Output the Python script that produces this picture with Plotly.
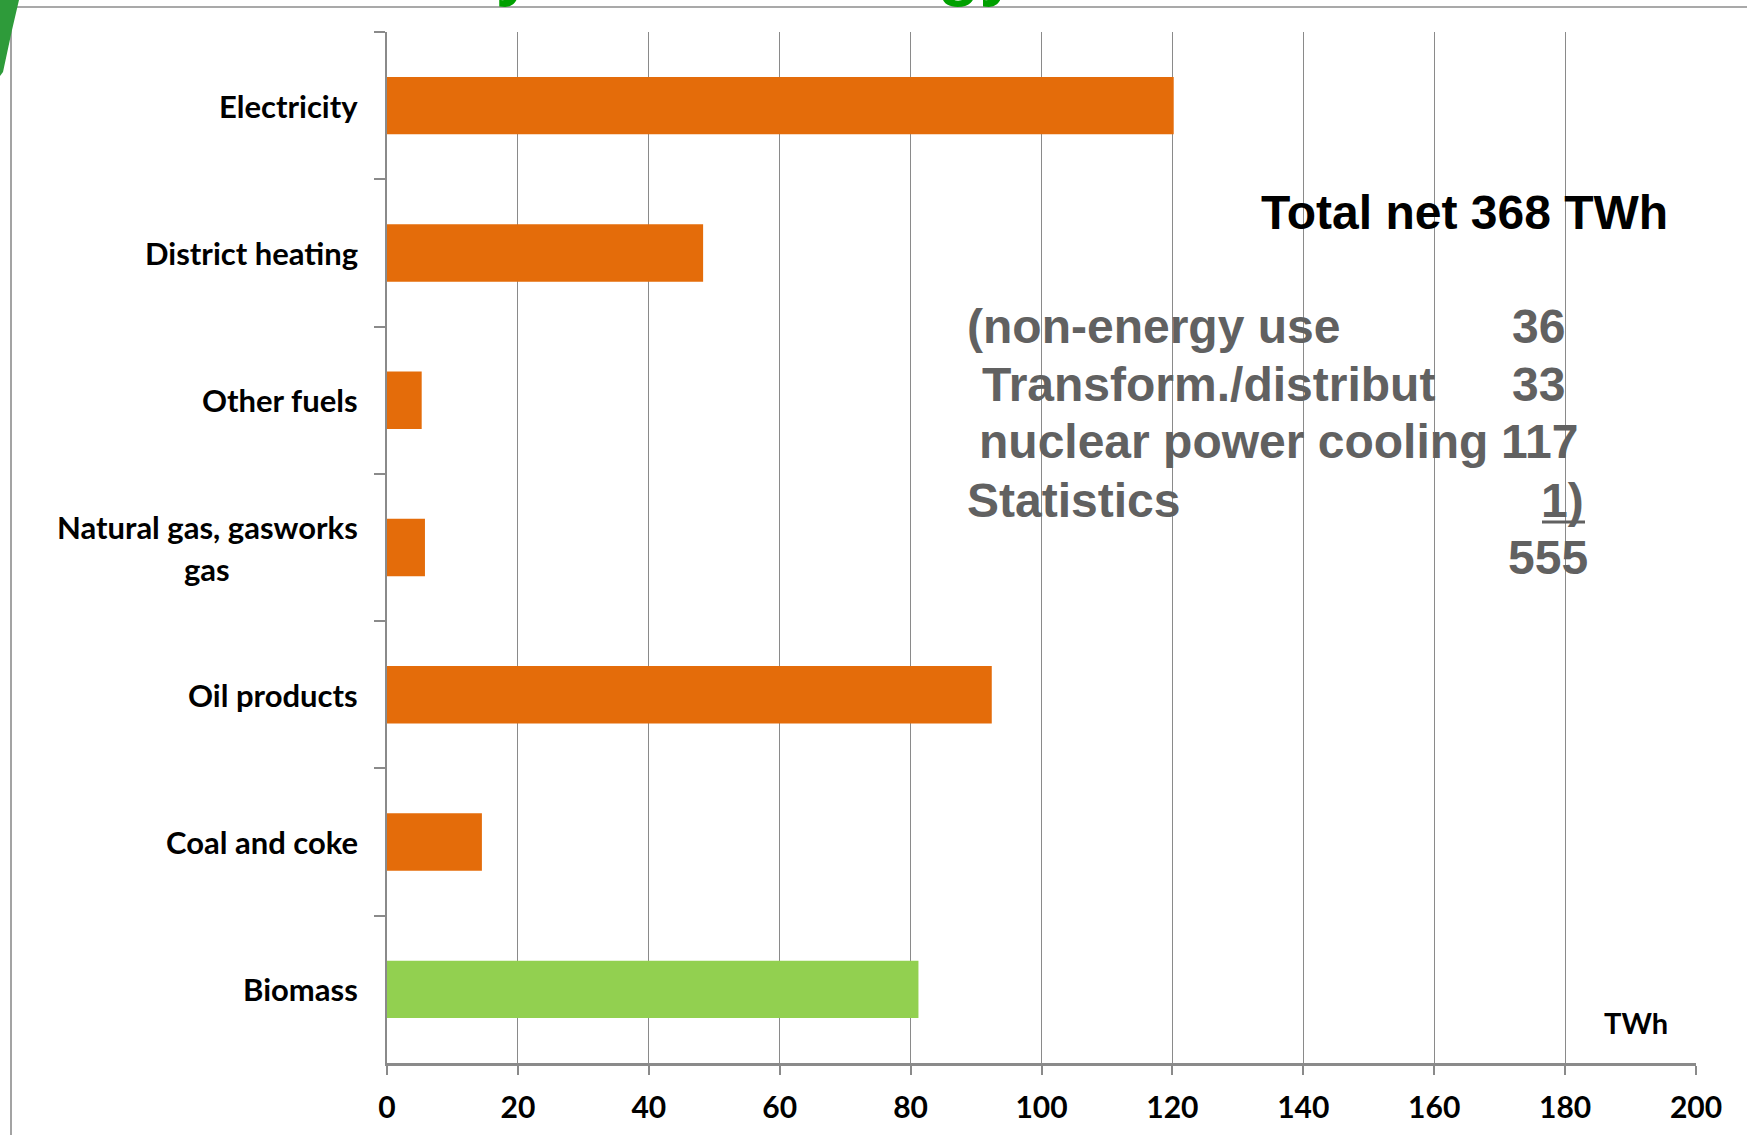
import plotly.graph_objects as go

# Final energy use by energy carrier (TWh)
categories = [
    "Electricity",
    "District heating",
    "Other fuels",
    "Natural gas, gasworks<br>gas",
    "Oil products",
    "Coal and coke",
    "Biomass",
]
values_twh = [120.2, 48.3, 5.3, 5.8, 92.4, 14.5, 81.2]
bar_colors = ["#E46C0A", "#E46C0A", "#E46C0A", "#E46C0A", "#E46C0A", "#E46C0A", "#92D050"]

x_ticks = [0, 20, 40, 60, 80, 100, 120, 140, 160, 180, 200]

summary_title = "Total net 368 TWh"
summary_items = ["(non-energy use", "Transform./distribut", "nuclear power cooling", "Statistics"]
summary_values = ["36", "33", "117", "1)", "555"]
slide_title = "Delivery of final energy"

W, H = 1747, 1135
ML, MR, MT, MB = 387, 51, 32, 72
PW, PH = W - ML - MR, H - MT - MB


def px(xp):
    return (xp - ML) / PW


def py(yp):
    return (H - MB - yp) / PH


GRID = "#8a8a8a"
GRAY_TEXT = "#616161"
LABEL_FONT = dict(family="Lato", size=31, weight="bold", color="#000000")

fig = go.Figure(
    go.Bar(
        x=values_twh,
        y=categories,
        orientation="h",
        marker=dict(color=bar_colors, line=dict(width=0)),
        hoverinfo="x+y",
    )
)

annotations = []

# category labels: right edge just left of the axis; wrapped labels get tighter line spacing
for cat in categories:
    lines = cat.split("<br>")
    if len(lines) == 1:
        annotations.append(dict(
            x=px(359), xref="paper", y=cat, yref="y", text=cat, showarrow=False,
            xanchor="right", yanchor="middle", font=LABEL_FONT, borderpad=0,
        ))
    else:
        annotations.append(dict(
            x=px(359), xref="paper", y=cat, yref="y", text=lines[0], showarrow=False,
            xanchor="right", yanchor="middle", yshift=21, font=LABEL_FONT, borderpad=0,
        ))
        annotations.append(dict(
            x=px(207), xref="paper", y=cat, yref="y", text=lines[1], showarrow=False,
            xanchor="center", yanchor="middle", yshift=-21, font=LABEL_FONT, borderpad=0,
        ))

# unit label inside the plot
annotations.append(dict(
    x=px(1636), xref="paper", y=py(1023), yref="paper", text="TWh", showarrow=False,
    xanchor="center", yanchor="middle",
    font=dict(family="Lato", size=29, weight="bold", color="#000000"), borderpad=0,
))

# summary text block
annotations.append(dict(
    x=px(1260), xref="paper", y=py(212), yref="paper", text=summary_title, showarrow=False,
    xanchor="left", yanchor="middle",
    font=dict(family="Liberation Sans", size=48, weight="bold", color="#000000"), borderpad=0,
))

item_x = [966, 981, 978, 966]
row_centres = [326.4, 384.6, 441.3, 500.2, 557.0]
for txt, xx, yy in zip(summary_items, item_x, row_centres):
    annotations.append(dict(
        x=px(xx), xref="paper", y=py(yy), yref="paper", text=txt, showarrow=False,
        xanchor="left", yanchor="middle",
        font=dict(family="Liberation Sans", size=48, weight="bold", color=GRAY_TEXT), borderpad=0,
    ))

value_right = [1566, 1566, 1579, 1585, 1589]
for txt, xx, yy in zip(summary_values, value_right, row_centres):
    annotations.append(dict(
        x=px(xx), xref="paper", y=py(yy), yref="paper", text=txt, showarrow=False,
        xanchor="right", yanchor="middle",
        font=dict(family="Liberation Sans", size=48, weight="bold", color=GRAY_TEXT), borderpad=0,
    ))

# slide heading running off the top edge (only the descenders stay on the page)
annotations.append(dict(
    x=px(268), xref="paper", y=py(8), yref="paper", text=slide_title, showarrow=False,
    xanchor="left", yanchor="bottom",
    font=dict(family="Liberation Sans", size=68, weight="bold", color="#00A000"), borderpad=0,
))

shapes = [
    # slide frame
    dict(type="line", xref="paper", yref="paper", x0=px(11), x1=px(W + 5), y0=py(7), y1=py(7),
         line=dict(color="#8c8c8c", width=1.6)),
    dict(type="line", xref="paper", yref="paper", x0=px(11), x1=px(11), y0=py(7), y1=py(H + 5),
         line=dict(color="#8c8c8c", width=1.6)),
    # leaf ornament at the corner
    dict(type="path", xref="paper", yref="paper",
         path=f"M {px(0)} {py(0)} L {px(19)} {py(0)} L {px(12)} {py(30)} L {px(3)} {py(72)} L {px(0)} {py(76)} Z",
         fillcolor="#2E9B3A", line=dict(width=0)),
    # underline below the last summary item
    dict(type="line", xref="paper", yref="paper", x0=px(1542), x1=px(1585), y0=py(522), y1=py(522),
         line=dict(color=GRAY_TEXT, width=3)),
]

fig.update_layout(
    width=W, height=H,
    margin=dict(l=ML, r=MR, t=MT, b=MB, autoexpand=False),
    paper_bgcolor="white", plot_bgcolor="white",
    showlegend=False,
    bargap=0.61,
    annotations=annotations,
    shapes=shapes,
    xaxis=dict(
        range=[0, 200], tickmode="array", tickvals=x_ticks, ticktext=[str(t) for t in x_ticks],
        automargin=False,
        showgrid=True, gridcolor=GRID, gridwidth=1.3,
        showline=True, linecolor=GRID, linewidth=2.5,
        zeroline=False,
        ticks="outside", ticklen=9, tickwidth=1.5, tickcolor=GRID,
        ticklabelstandoff=7,
        tickfont=dict(family="Lato", size=30, weight="bold", color="#000000"),
    ),
    yaxis=dict(
        autorange="reversed", type="category", automargin=False,
        showgrid=False, zeroline=False,
        showline=True, linecolor=GRID, linewidth=2,
        ticks="outside", tickson="boundaries", ticklen=11, tickwidth=1.5, tickcolor=GRID,
        showticklabels=False,
    ),
)

fig.write_html("out.html")
